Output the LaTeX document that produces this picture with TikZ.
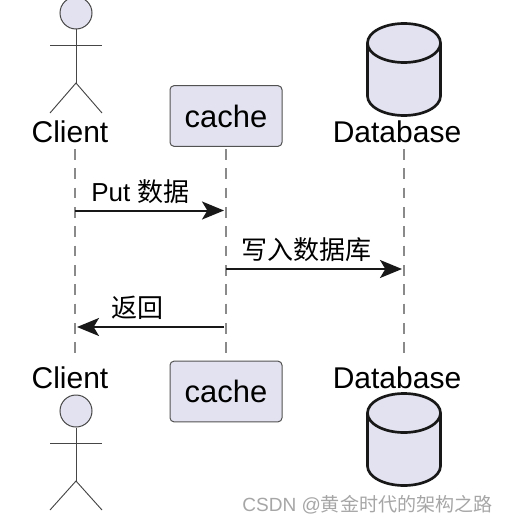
\documentclass[tikz,border=0pt]{standalone}
\usepackage{fontspec}
\setmainfont{Liberation Sans}
\newfontfamily\cjk{Noto Sans CJK SC}
\usetikzlibrary{arrows.meta,positioning}
\usepackage{xcolor}
\definecolor{PartFill}{HTML}{E2E2F0}
\definecolor{Ink}{HTML}{181818}
\definecolor{LifeGray}{HTML}{8A8A8A}
\definecolor{MarkGray}{HTML}{A6A6A6}

\begin{document}
\begin{tikzpicture}[
  x=0.75pt, y=-0.75pt,
  partname/.style={font=\fontsize{22.5}{26}\selectfont, text=black, inner sep=0pt},
  partbox/.style={draw=Ink!75, line width=0.75pt, fill=PartFill, rounded corners=3pt,
              minimum width=84pt, minimum height=45.5pt, inner sep=0pt,
              font=\fontsize{23.2}{26}\selectfont},
  actorhead/.style={circle, draw=Ink!80, line width=0.75pt, fill=PartFill,
               minimum size=24pt, inner sep=0pt},
  limb/.style={draw=Ink!80, line width=0.7pt},
  dbcyl/.style={draw=Ink, line width=2pt, fill=PartFill},
  life/.style={draw=LifeGray, line width=0.9pt, dash pattern=on 8pt off 6.5pt},
  msg/.style={draw=Ink, line width=1.5pt, -{Stealth[length=16.5pt,width=13.5pt,inset=4pt]}},
  txt/.style={font=\fontsize{19.5}{24}\selectfont, text=black, inner sep=0pt, anchor=base west}
]
  \useasboundingbox (0,0) rectangle (508,524);

  %% Lifelines (behind everything)
  \coordinate (clientTop) at (75,149);
  \coordinate (clientEnd) at (75,360);
  \coordinate (cacheTop) at (226,149);
  \coordinate (cacheEnd) at (226,360);
  \coordinate (dbTop) at (404,149);
  \coordinate (dbEnd) at (404,360);
  \draw[life] (clientTop) -- (clientEnd);
  \draw[life] (cacheTop) -- (cacheEnd);
  \draw[life] (dbTop) -- (dbEnd);

  %% Participants on top
  \node[actorhead] (client1) at (76,13) {};
  \coordinate (hip1) at (76,83);
  \coordinate (arm1a) at (50,45);
  \coordinate (arm1b) at (102,45);
  \coordinate (leg1a) at (50,113);
  \coordinate (leg1b) at (102,113);
  \draw[limb] (client1.south) -- (hip1);
  \draw[limb] (arm1a) -- (arm1b);
  \draw[limb] (leg1a) -- (hip1) -- (leg1b);
  \node[partname, anchor=base] (clientName1) at (70,142.5) {Client};
  \node[partbox] (cache1) at (226,116) {cache};
  \node[partname, anchor=base] (dbName1) at (397,142.5) {Database};
  \draw[dbcyl] (367.5,43) arc[start angle=180, end angle=360, x radius=36.5, y radius=19.5]
    -- (440.5,96) arc[start angle=0, end angle=180, x radius=36.5, y radius=19.5] -- cycle;
  \draw[dbcyl, fill=none] (367.5,43) arc[start angle=180, end angle=0, x radius=36.5, y radius=19.5];

  %% Participants at the bottom
  \node[partname, anchor=base] (clientName2) at (70,388.5) {Client};
  \node[actorhead] (client2) at (76,411) {};
  \coordinate (hip2) at (76,481);
  \coordinate (arm2a) at (50,443);
  \coordinate (arm2b) at (102,443);
  \coordinate (leg2a) at (50,510);
  \coordinate (leg2b) at (102,510);
  \draw[limb] (client2.south) -- (hip2);
  \draw[limb] (arm2a) -- (arm2b);
  \draw[limb] (leg2a) -- (hip2) -- (leg2b);
  \node[partbox] (cache2) at (226,391.5) {cache};
  \node[partname, anchor=base] (dbName2) at (397,388.5) {Database};
  \draw[dbcyl] (367.5,413) arc[start angle=180, end angle=360, x radius=36.5, y radius=19.5]
    -- (440.5,466) arc[start angle=0, end angle=180, x radius=36.5, y radius=19.5] -- cycle;
  \draw[dbcyl, fill=none] (367.5,413) arc[start angle=180, end angle=0, x radius=36.5, y radius=19.5];

  %% Messages
  \coordinate (putA) at (75,210.5);
  \coordinate (putB) at (224,210.5);
  \coordinate (saveA) at (226,269);
  \coordinate (saveB) at (402,269);
  \coordinate (backA) at (224,327);
  \coordinate (backB) at (77,327);
  \draw[msg] (putA) -- (putB);
  \draw[msg] (saveA) -- (saveB);
  \draw[msg] (backA) -- (backB);
  \node[txt] (putText) at (91,201) {Put {\cjk 数据}};
  \node[txt] (saveText) at (241,259.5) {{\cjk 写入数据库}};
  \node[txt] (backText) at (111,317.5) {{\cjk 返回}};

  %% Watermark
  \node[font=\fontsize{14.3}{18}\selectfont, text=MarkGray, inner sep=0pt, anchor=base west]
    (mark) at (242,511) {CSDN @{\cjk 黄金时代的架构之路}};
\end{tikzpicture}
\end{document}
